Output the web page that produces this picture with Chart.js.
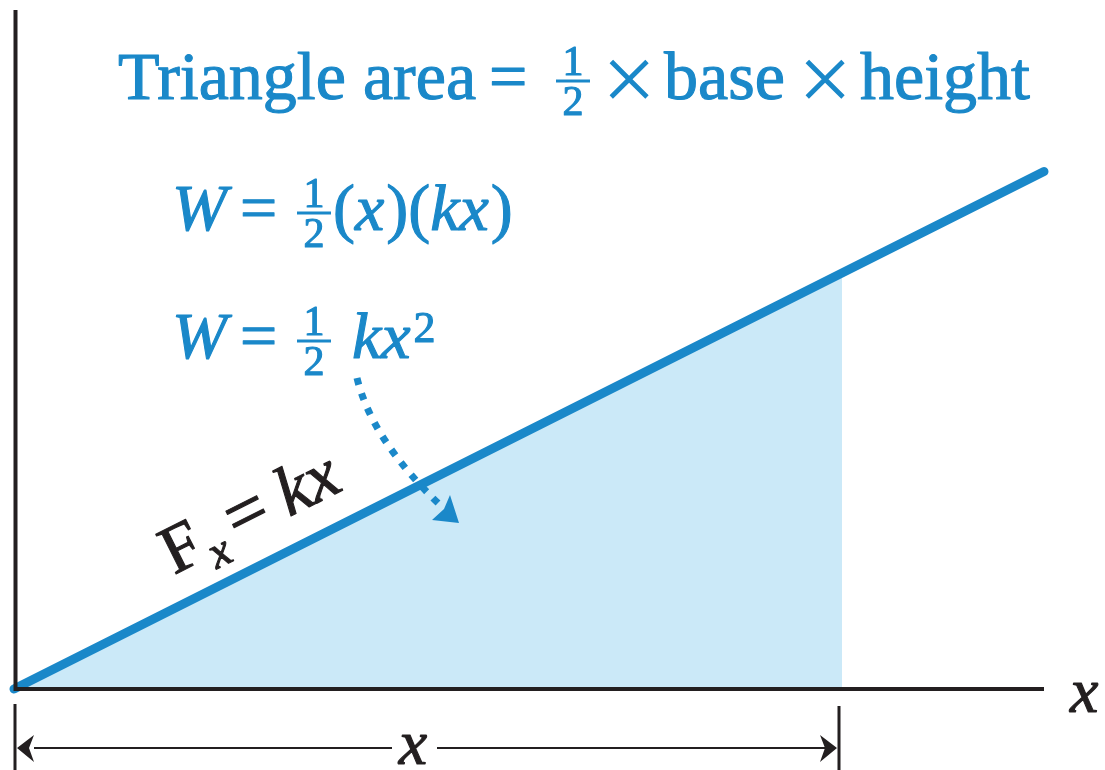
<!DOCTYPE html>
<html>
<head>
<meta charset="utf-8">
<script src="https://cdn.jsdelivr.net/npm/chart.js@4"></script>
<style>
  body { margin: 0; background: #fff; }
  canvas { display: block; }
</style>
</head>
<body>
<canvas id="springChart" width="1105" height="770"></canvas>
<script>
// spring force F = kx against displacement (k = 1, stretch x = 1)
const lineX = [0, 1.25];
const lineF = [0, 1.25];
// shaded triangle under the line up to the stretch x
const areaX = [0, 1.005];
const areaF = [0, 1.005];
const xRange = [0, 1.25];
const yRange = [0, 1.64];

const blue = '#1a88c9';
const ink = '#231f20';
const serif = '"Liberation Serif", "DejaVu Serif", serif';

function toPoints(xs, ys) {
    return xs.map(function (x, i) { return { x: x, y: ys[i] }; });
}

// filled text with a hairline outline so the serif reads a bit heavier
function put(ctx, text, x, y) {
    ctx.save();
    ctx.strokeStyle = ctx.fillStyle;
    ctx.lineWidth = 1.1;
    ctx.lineJoin = 'round';
    ctx.fillText(text, x, y);
    ctx.strokeText(text, x, y);
    ctx.restore();
}

// draws a list of text runs one after another, returns the end x
function drawRuns(ctx, x, y, runs) {
    runs.forEach(function (r) {
        ctx.font = r.f;
        put(ctx, r.t, x + (r.dx || 0), y + (r.dy || 0));
        x += (r.dx || 0) + ctx.measureText(r.t).width;
    });
    return x;
}

// glyph centred on (cx, cy) using its ink box
function drawCentered(ctx, text, font, cx, cy) {
    ctx.save();
    ctx.font = font;
    const m = ctx.measureText(text);
    const w = m.actualBoundingBoxRight + m.actualBoundingBoxLeft;
    const h = m.actualBoundingBoxAscent + m.actualBoundingBoxDescent;
    ctx.fillText(text, cx - w / 2 + m.actualBoundingBoxLeft, cy - h / 2 + m.actualBoundingBoxAscent);
    ctx.restore();
}

function drawFraction(ctx, cx, barY, w, size) {
    ctx.save();
    ctx.font = size + 'px ' + serif;
    ctx.textAlign = 'center';
    put(ctx, '1', cx, barY - 6);
    put(ctx, '2', cx, barY + 6 + size * 0.66);
    ctx.fillRect(cx - w / 2, barY - 1.5, w, 3);
    ctx.restore();
}

const decorations = {
    id: 'decorations',
    afterDatasetsDraw(chart) {
        const ctx = chart.ctx;
        const xs = chart.scales.x;
        const ys = chart.scales.y;
        const x0 = xs.getPixelForValue(0);
        const y0 = ys.getPixelForValue(0);
        const xEnd = xs.getPixelForValue(xRange[1]);
        const xStretch = xs.getPixelForValue(1);

        ctx.save();

        // axes
        ctx.strokeStyle = ink;
        ctx.lineWidth = 4;
        ctx.beginPath();
        ctx.moveTo(x0 + 1.5, chart.chartArea.top);
        ctx.lineTo(x0 + 1.5, y0);
        ctx.lineTo(xEnd, y0);
        ctx.stroke();

        ctx.fillStyle = ink;
        ctx.font = 'italic 64px ' + serif;
        put(ctx, 'x', 1070, 712);

        // dimension line for the stretch x
        ctx.lineWidth = 3;
        ctx.beginPath();
        ctx.moveTo(x0 + 1, 704);
        ctx.lineTo(x0 + 1, 770);
        ctx.moveTo(xStretch + 1, 706);
        ctx.lineTo(xStretch + 1, 770);
        ctx.stroke();
        ctx.lineWidth = 2;
        ctx.beginPath();
        ctx.moveTo(x0 + 20, 748);
        ctx.lineTo(392, 748);
        ctx.moveTo(437, 748);
        ctx.lineTo(xStretch - 6, 748);
        ctx.stroke();
        [[x0 + 3, 1], [xStretch - 1, -1]].forEach(function (a) {
            const tip = a[0], d = a[1];
            ctx.beginPath();
            ctx.moveTo(tip, 748);
            ctx.lineTo(tip + d * 17, 735);
            ctx.lineTo(tip + d * 12, 748);
            ctx.lineTo(tip + d * 17, 762);
            ctx.closePath();
            ctx.fill();
        });
        ctx.textAlign = 'center';
        put(ctx, 'x', 413, 764);
        ctx.textAlign = 'left';

        // F_x = kx along the line
        const ang = Math.atan2(ys.getPixelForValue(1.25) - y0, xEnd - x0);
        ctx.save();
        ctx.translate(174, 575);
        ctx.rotate(ang);
        drawRuns(ctx, 0, 0, [
            { t: 'F', f: '68px ' + serif },
            { t: 'x', f: 'italic 46px ' + serif, dy: 14, dx: 3 },
            { t: '=', f: '74px ' + serif, dx: 10 },
            { t: 'kx', f: 'italic 70px ' + serif, dx: 16 }
        ]);
        ctx.restore();

        // formulas
        ctx.fillStyle = blue;
        ctx.font = '68px ' + serif;
        put(ctx, 'Triangle area', 118, 99);
        put(ctx, '=', 489, 99);
        drawFraction(ctx, 573, 81, 34, 42);
        drawCentered(ctx, '\u00d7', '96px ' + serif, 629, 79);
        ctx.font = '68px ' + serif;
        put(ctx, 'base', 664, 99);
        drawCentered(ctx, '\u00d7', '96px ' + serif, 825, 79);
        ctx.font = '68px ' + serif;
        put(ctx, 'height', 860, 99);

        ctx.font = 'italic 66px ' + serif;
        put(ctx, 'W', 172, 230);
        ctx.font = '66px ' + serif;
        put(ctx, '=', 240, 230);
        drawFraction(ctx, 314, 213, 34, 42);
        drawRuns(ctx, 333, 230, [
            { t: '(', f: '66px ' + serif },
            { t: 'x', f: 'italic 66px ' + serif },
            { t: ')(', f: '66px ' + serif, dx: 2 },
            { t: 'kx', f: 'italic 66px ' + serif },
            { t: ')', f: '66px ' + serif, dx: 2 }
        ]);

        ctx.font = 'italic 66px ' + serif;
        put(ctx, 'W', 172, 358);
        ctx.font = '66px ' + serif;
        put(ctx, '=', 240, 358);
        drawFraction(ctx, 314, 341, 34, 42);
        drawRuns(ctx, 352, 358, [
            { t: 'kx', f: 'italic 66px ' + serif },
            { t: '2', f: '44px ' + serif, dy: -16, dx: 3 }
        ]);

        // dotted arrow pointing into the shaded area
        ctx.strokeStyle = blue;
        ctx.lineWidth = 7;
        ctx.setLineDash([7, 9]);
        ctx.beginPath();
        ctx.moveTo(357, 378);
        ctx.quadraticCurveTo(372, 440, 440, 505);
        ctx.stroke();
        ctx.setLineDash([]);
        ctx.beginPath();
        ctx.moveTo(459, 523);
        ctx.lineTo(432, 520);
        ctx.lineTo(444, 509);
        ctx.lineTo(450, 495);
        ctx.closePath();
        ctx.fill();

        ctx.restore();
    }
};

new Chart(document.getElementById('springChart'), {
    type: 'scatter',
    data: {
        datasets: [{
            // first in the list so it is painted over the fill
            data: toPoints(lineX, lineF),
            showLine: true,
            borderColor: blue,
            borderWidth: 9,
            borderCapStyle: 'round',
            pointRadius: 0,
            fill: false,
            clip: false
        }, {
            data: toPoints(areaX, areaF),
            showLine: true,
            borderWidth: 0,
            pointRadius: 0,
            backgroundColor: '#cbe9f8',
            fill: 'origin'
        }]
    },
    options: {
        responsive: false,
        animation: false,
        layout: { padding: { left: 14, right: 61, top: 10, bottom: 81 } },
        plugins: { legend: { display: false }, tooltip: { enabled: false } },
        scales: {
            x: { type: 'linear', display: false, min: xRange[0], max: xRange[1] },
            y: { type: 'linear', display: false, min: yRange[0], max: yRange[1] }
        }
    },
    plugins: [decorations]
});
</script>
</body>
</html>
